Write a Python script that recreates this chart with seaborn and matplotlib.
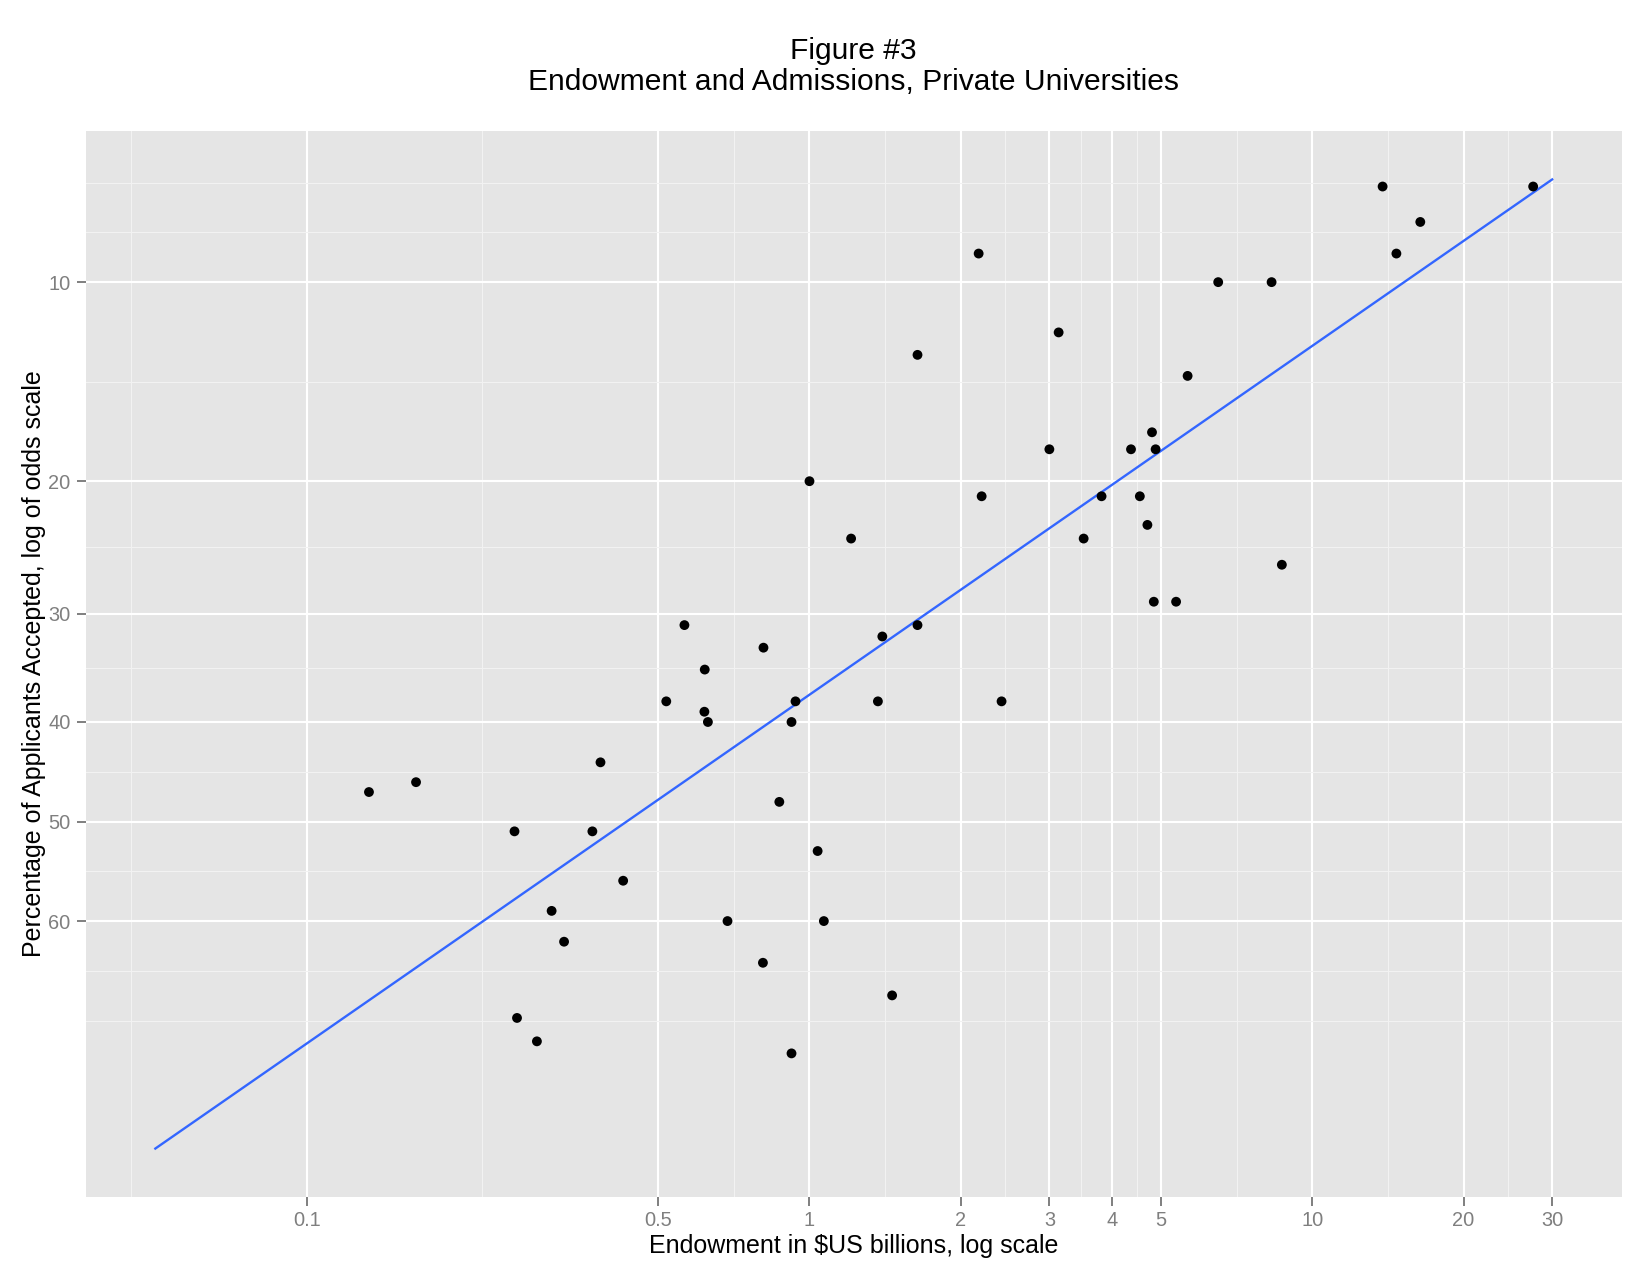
import numpy as np
import pandas as pd
import matplotlib
matplotlib.use("Agg")
import matplotlib.pyplot as plt
import seaborn as sns
from matplotlib.ticker import FixedLocator, FixedFormatter, NullFormatter

# ---------------- data ----------------
endowment_bn = [13.8, 27.5, 16.4, 2.17, 14.7, 6.5, 8.3, 3.13, 1.64, 5.65,
                4.8, 3.0, 4.36, 4.88, 1.0, 2.2, 3.81, 4.54, 4.7, 1.21,
                3.51, 8.7, 4.84, 5.36, 0.564, 1.64, 1.396, 0.81, 0.619, 0.519,
                0.938, 1.368, 2.41, 0.618, 0.628, 0.921, 0.384, 0.133, 0.165, 0.871,
                0.259, 0.370, 1.038, 0.426, 0.307, 0.687, 1.068, 0.325, 0.808, 1.46,
                0.262, 0.287, 0.921]
pct_accepted = [7, 7, 8, 9, 9, 10, 10, 12, 13, 14,
                17, 18, 18, 18, 20, 21, 21, 21, 23, 24,
                24, 26, 29, 29, 31, 31, 32, 33, 35, 38,
                38, 38, 38, 39, 40, 40, 44, 47, 46, 48,
                51, 51, 53, 56, 59, 60, 60, 62, 64, 67,
                69, 71, 72]

x_breaks = [0.1, 0.5, 1, 2, 3, 4, 5, 10, 20, 30]
x_labels = ["0.1", "0.5", "1", "2", "3", "4", "5", "10", "20", "30"]
y_breaks = [10, 20, 30, 40, 50, 60]
y_labels = ["10", "20", "30", "40", "50", "60"]
fit_range = [0.05, 30]

title_lines = ["Figure #3", "Endowment and Admissions, Private Universities"]
x_title = "Endowment in $US billions, log scale"
y_title = "Percentage of Applicants Accepted, log of odds scale"

# ---------------- helpers ----------------
def logit(p):
    p = np.asarray(p, float)
    return np.log(p / (1 - p))

def expit(z):
    return 1 / (1 + np.exp(-np.asarray(z, float)))

def minor_breaks(b, lo, hi):
    """ggplot-style minor breaks in transformed space."""
    b = np.sort(np.asarray(b, float))
    bd = b[1] - b[0]
    b = np.concatenate([[b[0] - bd], b, [b[-1] + bd]])
    mids = (b[:-1] + b[1:]) / 2
    m = np.concatenate([mids, [b[0], b[-1]]])
    return np.sort(m[(m > lo) & (m < hi)])

df = pd.DataFrame({"endowment": endowment_bn,
                   "accepted": np.asarray(pct_accepted, float) / 100})

# OLS fit of log-odds of acceptance on log10 endowment
slope, intercept = np.polyfit(np.log10(df["endowment"]), logit(df["accepted"]), 1)
fit_x = np.logspace(np.log10(fit_range[0]), np.log10(fit_range[1]), 200)
fit_y = expit(intercept + slope * np.log10(fit_x))
fit_df = pd.DataFrame({"endowment": fit_x, "accepted": fit_y})

# limits: data + fit range, expanded 5% in transformed space
lx = np.log10(np.concatenate([df["endowment"].values, fit_x]))
ly = logit(np.concatenate([df["accepted"].values, fit_y]))
xr = lx.max() - lx.min()
yr = ly.max() - ly.min()
xlo, xhi = lx.min() - 0.05 * xr, lx.max() + 0.05 * xr
ylo, yhi = ly.min() - 0.05 * yr, ly.max() + 0.05 * yr

# ---------------- figure ----------------
FONT = ["Liberation Sans", "DejaVu Sans"]
plt.rcParams["font.family"] = FONT

W, H = 1650, 1275
fig = plt.figure(figsize=(W / 100, H / 100), dpi=100)
pl, pr, pt, pb = 85.5, 1622, 131, 1197
ax = fig.add_axes([pl / W, 1 - pb / H, (pr - pl) / W, (pb - pt) / H])
ax.set_facecolor("#E5E5E5")
ax.set_axisbelow(True)

ax.set_xscale("log")
ax.set_yscale("logit")

sns.lineplot(data=fit_df, x="endowment", y="accepted", ax=ax,
             color="#3366FF", linewidth=1.7, zorder=2, sort=False)
sns.scatterplot(data=df, x="endowment", y="accepted", ax=ax,
                color="black", s=50, edgecolor="none", zorder=3, legend=False)

ax.set_xlim(10 ** xlo, 10 ** xhi)
ax.set_ylim(expit(yhi), expit(ylo))  # reversed: low acceptance at top

# ticks
ax.xaxis.set_major_locator(FixedLocator(x_breaks))
ax.xaxis.set_major_formatter(FixedFormatter(x_labels))
ax.xaxis.set_minor_locator(FixedLocator(10 ** minor_breaks(np.log10(x_breaks), xlo, xhi)))
ax.xaxis.set_minor_formatter(NullFormatter())

yb = np.asarray(y_breaks, float) / 100
ax.yaxis.set_major_locator(FixedLocator(yb))
ax.yaxis.set_major_formatter(FixedFormatter(y_labels))
ymin_t = minor_breaks(-logit(yb), -yhi, -ylo)
ax.yaxis.set_minor_locator(FixedLocator(expit(-ymin_t)))
ax.yaxis.set_minor_formatter(NullFormatter())

ax.grid(which="major", color="white", linewidth=1.5)
ax.grid(which="minor", color="#F2F2F2", linewidth=0.8)
for s in ax.spines.values():
    s.set_visible(False)

ax.tick_params(which="major", length=6.3, width=1.4, color="#7F7F7F",
               labelcolor="#7F7F7F", labelsize=14.4, pad=4.5)
ax.tick_params(axis="x", which="major", pad=3.5)
ax.tick_params(which="minor", length=0)
for lab in ax.get_xticklabels() + ax.get_yticklabels():
    lab.set_family(FONT)

ax.set_xlabel("")
ax.set_ylabel("")

cx = (pl + pr) / 2 / W
fig.text(cx, 1 - 59 / H, title_lines[0], ha="center", va="baseline",
         fontsize=21.6, color="black", family=FONT)
fig.text(cx, 1 - 90 / H, title_lines[1], ha="center", va="baseline",
         fontsize=21.6, color="black", family=FONT)
fig.text(cx, 1 - 1253 / H, x_title, ha="center", va="baseline",
         fontsize=18, color="black", family=FONT)
fig.text(34 / W, 1 - (pt + pb) / 2 / H, y_title, ha="center", va="center",
         rotation=90, fontsize=18, color="black", family=FONT)

fig.savefig("out.png", dpi=100, facecolor="white")
